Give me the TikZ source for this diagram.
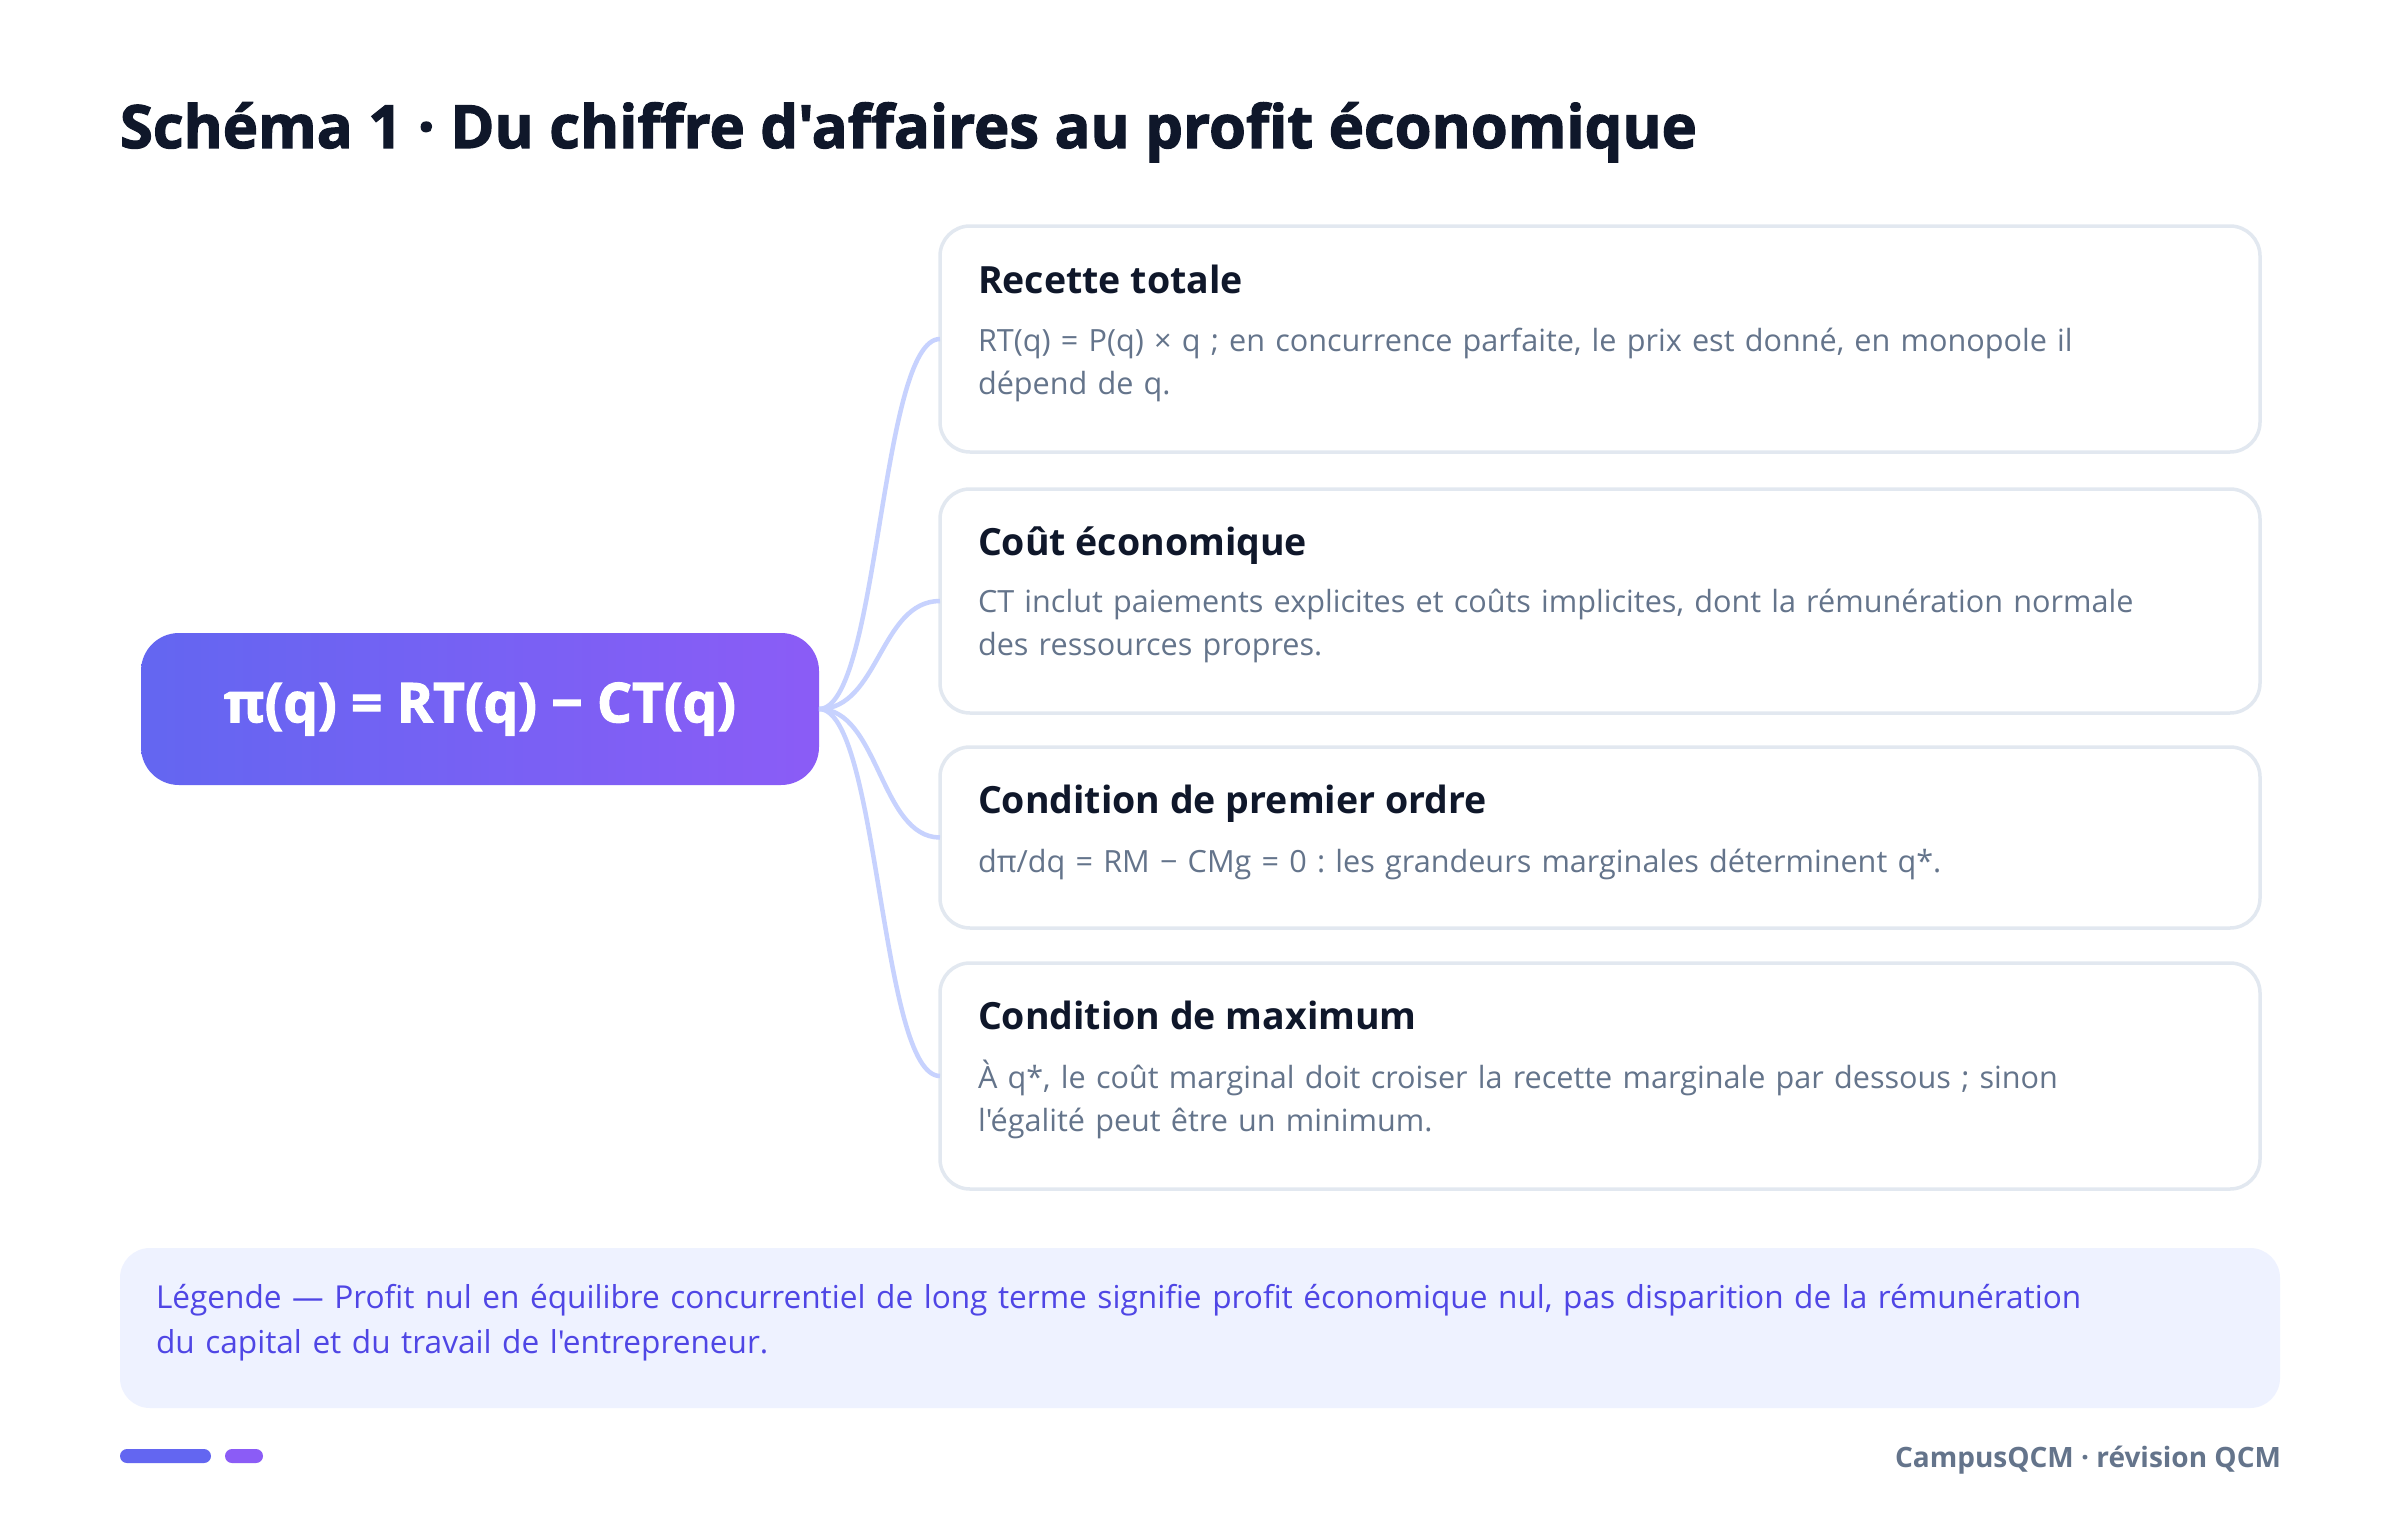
\documentclass[tikz,border=0pt]{standalone}
\usepackage{fontspec}
\newfontfamily\osans{Open Sans}
\newfontfamily\osheavy{Open Sans}[BoldFeatures={FakeBold=2}]
\usetikzlibrary{calc}
\definecolor{titlec}{HTML}{0F172A}
\definecolor{bodyc}{HTML}{64748B}
\definecolor{borderc}{HTML}{E2E8F0}
\definecolor{connc}{HTML}{C7D2FE}
\definecolor{legfill}{HTML}{EEF2FF}
\definecolor{legtext}{HTML}{4F46E5}
\definecolor{gradA}{HTML}{6366F1}
\definecolor{gradB}{HTML}{8B5CF6}
\frenchspacing
\begin{document}
\begin{tikzpicture}[x=1pt,y=-1pt,
  every node/.style={inner sep=0pt, outer sep=0pt},
  card/.style={draw=borderc, line width=3.5pt, fill=white, rounded corners=30pt, minimum width=1320pt, anchor=north west},
  cardtitle/.style={anchor=base west, text=titlec, font=\osans\fontsize{37.5}{44}\selectfont\bfseries},
  cardbody/.style={anchor=base west, text=bodyc, text width=1280pt, align=left, font=\osans\fontsize{30.6}{43}\selectfont},
  conn/.style={draw=connc, line width=4.5pt},
  pill/.style={rounded corners=7pt, minimum height=14pt, anchor=north west}
]
\useasboundingbox[fill=white] (0,0) rectangle (2400,1517);

% title
\node[anchor=base west, text=titlec, font=\osheavy\fontsize{59.7}{68}\selectfont\bfseries] (title) at (120,148) {Schéma 1 · Du chiffre d'affaires au profit économique};

% central node
\node[rounded corners=38pt, left color=gradA, right color=gradB, minimum width=678pt, minimum height=152pt, text=white, font=\osheavy\fontsize{55}{62}\selectfont\bfseries] (pi) at (480,709) {π(q) = RT(q) − CT(q)};

% cards
\node[card, minimum height=226pt] (c1) at (940,226) {};
\node[card, minimum height=224pt] (c2) at (940,489) {};
\node[card, minimum height=181pt] (c3) at (940,747) {};
\node[card, minimum height=226pt] (c4) at (940,963) {};

% connectors
\foreach \c in {c1,c2,c3,c4}
  \draw[conn] (pi.east) .. controls +(60,0) and +(-60,0) .. (\c.west);

% card texts
\node[cardtitle] (c1t) at (978,293) {Recette totale};
\node[cardbody] (c1b) at (978,351) {RT(q) = P(q) × q ; en concurrence parfaite, le prix est donné, en monopole il\\dépend de q.};

\node[cardtitle] (c2t) at (978,555) {Coût économique};
\node[cardbody] (c2b) at (978,612) {CT inclut paiements explicites et coûts implicites, dont la rémunération normale\\des ressources propres.};

\node[cardtitle] (c3t) at (978,813) {Condition de premier ordre};
\node[cardbody] (c3b) at (978,872) {dπ/dq = RM − CMg = 0 : les grandeurs marginales déterminent q*.};

\node[cardtitle] (c4t) at (978,1029) {Condition de maximum};
\node[cardbody] (c4b) at (978,1088) {À q*, le coût marginal doit croiser la recette marginale par dessous ; sinon\\l'égalité peut être un minimum.};

% legend
\node[fill=legfill, rounded corners=30pt, minimum width=2160pt, minimum height=160pt, anchor=north west] (leg) at (120,1248) {};
\node[anchor=base west, text=legtext, text width=2110pt, align=left, font=\osans\fontsize{31.6}{45}\selectfont] (legt) at (156,1308) {Légende — Profit nul en équilibre concurrentiel de long terme signifie profit économique nul, pas disparition de la rémunération\\du capital et du travail de l'entrepreneur.};

% footer
\node[pill, fill=gradA, minimum width=91pt] (bar1) at (120,1449) {};
\node[pill, fill=gradB, minimum width=38pt] (bar2) at (225,1449) {};
\node[anchor=base east, text=bodyc, font=\osans\fontsize{28}{32}\selectfont\bfseries] (foot) at (2281,1467) {CampusQCM · révision QCM};
\end{tikzpicture}
\end{document}
